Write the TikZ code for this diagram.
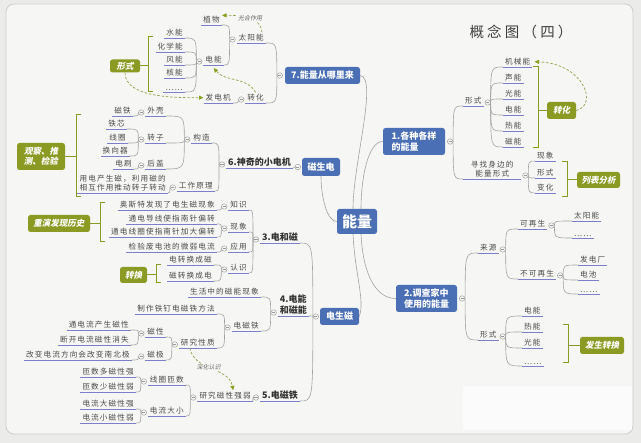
\documentclass[tikz,border=0pt]{standalone}
\usepackage{fontspec}
\usetikzlibrary{arrows.meta,calc}
\newfontfamily\cjk{Noto Sans CJK SC}[LetterSpace=15]
\newfontfamily\cjkt{Noto Sans CJK SC}[LetterSpace=22]
\newfontfamily\cjkn{Noto Sans CJK SC}
\newfontfamily\cjks{Noto Sans CJK SC}[FakeSlant=0.2]
\definecolor{paper}{HTML}{F6F6F4}
\definecolor{outer}{HTML}{EBEBE9}
\definecolor{frame}{HTML}{CDCDCB}
\definecolor{bblue}{HTML}{4A6FB5}
\definecolor{olive}{HTML}{8A9A22}
\definecolor{ulc}{HTML}{7C80C8}
\definecolor{cgray}{HTML}{A3A3A3}
\definecolor{txt}{HTML}{4A4A4A}
\definecolor{dcol}{HTML}{93A04A}
\definecolor{acol}{HTML}{8AA020}
\newcommand{\omL}[2]{\node[om, anchor=east] (#1) at ([xshift=-1pt,yshift=3.5pt]#2.south west) {};}
\newcommand{\omR}[2]{\node[om, anchor=west] (#1) at ([xshift=1pt,yshift=3.5pt]#2.south east) {};}
\newcommand{\cL}[2]{\draw[conn] (#1.west) .. controls (#1.west |- #2.south east) .. (#2.south east);}
\newcommand{\cR}[2]{\draw[conn] (#1.east) .. controls (#1.east |- #2.south west) .. (#2.south west);}
\tikzset{
 ulline/.style={draw=ulc, line width=0.9pt},
 lab/.style={font=\cjk\fontsize{7.6}{9.5}\selectfont, text=txt, inner xsep=2pt, inner ysep=1.6pt,
   append after command={(\tikzlastnode.south west) edge[ulline] (\tikzlastnode.south east)}},
 labl/.style={lab, anchor=south east},
 labr/.style={lab, anchor=south west},
 mainl/.style={lab, anchor=south east, font=\cjkn\bfseries\fontsize{9}{10.5}\selectfont, text=black!80},
 conn/.style={draw=cgray, line width=0.6pt},
 om/.style={circle, draw=gray!80, fill=paper, line width=0.45pt, minimum size=5.5pt, inner sep=0pt,
   path picture={\draw[gray!80, line width=0.45pt] ([xshift=-1.6pt]path picture bounding box.center) -- ([xshift=1.6pt]path picture bounding box.center);}},
 bbox/.style={fill=bblue, text=white, rounded corners=2.5pt, font=\cjkn\bfseries\fontsize{9}{11}\selectfont, inner sep=0pt, align=left},
 gbox/.style={fill=olive, text=white, rounded corners=2.5pt, font=\cjks\bfseries\fontsize{8.5}{10}\selectfont, inner sep=0pt, align=center},
 brk/.style={draw=olive, line width=1pt},
 darr/.style={draw=dcol, dash pattern=on 2.5pt off 1.8pt, line width=0.7pt, -{Triangle[length=4.5pt,width=4pt,fill=acol,color=acol]}},
 dlab/.style={font=\cjks\fontsize{6}{7}\selectfont, text=gray!80!black, inner sep=1pt, fill=paper},
}
\begin{document}
\begin{tikzpicture}[x=1pt,y=-1pt]
\useasboundingbox (0,0) rectangle (641,443);
\fill[outer] (0,0) rectangle (641,443);
\filldraw[fill=paper, draw=frame, line width=0.8pt, rounded corners=8pt] (6,4) rectangle (633,434);
\fill[white!60!paper] (463,386) rectangle (632,430);

\node[font=\cjkt\fontsize{14.5}{16}\selectfont, text=black!75] (title) at (521,32) {概念图（四）};

% ---------- center
\node[bbox, font=\cjkn\bfseries\fontsize{15}{17}\selectfont, minimum width=40pt, minimum height=25pt, align=center] (nl) at (357,221.5) {能量};

% ---------- 7
\node[bbox, minimum width=75pt, minimum height=17pt] (b7) at (322.5,75.5) {7.能量从哪里来};
\node[om, anchor=east] (o7) at ([xshift=-2pt]b7.west) {};
\node[labl] (sun) at (266,43) {太阳能};
\node[labl] (tr) at (266,103) {转化};
\cL{o7}{sun} \cL{o7}{tr}
\omL{osun}{sun}
\node[labl] (plant) at (222,25) {植物};
\node[labl] (elec) at (224,65) {电能};
\cL{osun}{plant} \cL{osun}{elec}
\omL{oelec}{elec}
\node[labl] (e1) at (185,38) {水能};
\node[labl] (e2) at (185,52) {化学能};
\node[labl] (e3) at (185,65) {风能};
\node[labl] (e4) at (185,78) {核能};
\node[labl] (e5) at (185,92) {……};
\foreach \k in {1,...,5} {\cL{oelec}{e\k}}
\omL{otr}{tr}
\node[labl] (gen) at (233,103) {发电机};
\cL{otr}{gen}
\draw[darr] ([xshift=-4pt]sun.north east) to[out=95,in=0] node[pos=0.45, dlab] (gh) {光合作用} ([yshift=-1pt]plant.north east);
\node[gbox, minimum width=30pt, minimum height=13pt] (xsL) at (125,66) {形式};
\draw[brk] (153,37) -- (148,37) -- (148,92) -- (153,92);
\draw[brk] (xsL.east) -- ++(8,0);
\draw[darr] (xsL.south) to[out=-90,in=180, looseness=0.8] (gen.west);
\draw[darr] (tr.north) to[out=120,in=-50] ([yshift=-3pt]elec.south);

% ---------- 6
\node[bbox, minimum width=38pt, minimum height=18pt, align=center] (msd) at (321,167) {磁生电};
\node[om, anchor=east] (omsd) at ([xshift=-1pt]msd.west) {};
\node[mainl] (b6) at (293,168) {6.神奇的小电机};
\draw[conn] (omsd.west) -- (b6.south east);
\omL{ob6}{b6}
\node[labl] (gz) at (212,143) {构造};
\node[labl] (gy) at (215,191) {工作原理};
\cL{ob6}{gz} \cL{ob6}{gy}
\omL{ogz}{gz}
\node[labl] (wk) at (166,116) {外壳};
\node[labl] (zz) at (166,143) {转子};
\node[labl] (hg) at (166,169) {后盖};
\cL{ogz}{wk} \cL{ogz}{zz} \cL{ogz}{hg}
\omL{owk}{wk}
\node[labl] (ct) at (133,116) {磁铁};
\cL{owk}{ct}
\omL{ozz}{zz}
\node[labl] (tx) at (127,129) {铁芯};
\node[labl] (xq) at (128,143) {线圈};
\node[labl] (hx) at (130,156) {换向器};
\cL{ozz}{tx} \cL{ozz}{xq} \cL{ozz}{hx}
\omL{ohg}{hg}
\node[labl] (ds) at (134,169) {电刷};
\cL{ohg}{ds}
\omL{ogy}{gy}
\node[labl, align=left] (yl) at (168,193) {用电产生磁，利用磁的\\相互作用推动转子转动};
\cL{ogy}{yl}
\node[gbox, minimum width=48pt, minimum height=27pt] (gc) at (41,156.5) {观察、推\\测、检验};
\draw[brk] (81,115) -- (76,115) -- (76,197) -- (81,197);
\draw[brk] (gc.east) -- ++(11,0);

% ---------- 3 4 5
\node[bbox, minimum width=39pt, minimum height=17pt, align=center] (dsc) at (339.5,316.5) {电生磁};
\node[om, anchor=east] (odsc) at ([xshift=-1pt]dsc.west) {};
\node[mainl] (b3) at (300,243) {3.电和磁};
\node[mainl, align=center] (b4) at (309,316) {4.电能\\和磁能};
\node[mainl] (b5) at (300,401) {5.电磁铁};
\cL{odsc}{b3} \cL{odsc}{b4} \cL{odsc}{b5}
\omL{ob3}{b3}
\node[labl] (zs) at (249,210) {知识};
\node[labl] (xx) at (249,232) {现象};
\node[labl] (yy) at (249,252) {应用};
\node[labl] (rs) at (249,273) {认识};
\cL{ob3}{zs} \cL{ob3}{xx} \cL{ob3}{yy} \cL{ob3}{rs}
\omL{ozs}{zs}
\node[labl] (zs1) at (217,210) {奥斯特发现了电生磁现象};
\cL{ozs}{zs1}
\omL{oxx}{xx}
\node[labl] (xx1) at (217,224) {通电导线使指南针偏转};
\node[labl] (xx2) at (217,237) {通电线圈使指南针加大偏转};
\cL{oxx}{xx1} \cL{oxx}{xx2}
\omL{oyy}{yy}
\node[labl] (yy1) at (217,252) {检验废电池的微弱电流};
\cL{oyy}{yy1}
\omL{ors}{rs}
\node[labl] (rs1) at (214,265) {电转换成磁};
\node[labl] (rs2) at (214,281) {磁转换成电};
\cL{ors}{rs1} \cL{ors}{rs2}
\node[gbox, minimum width=62pt, minimum height=17pt] (cy) at (59,223.5) {重演发现历史};
\draw[brk] (105,203) -- (100,203) -- (100,242) -- (105,242);
\draw[brk] (cy.east) -- ++(10,0);
\node[gbox, minimum width=27pt, minimum height=16pt] (zh) at (133.5,275) {转换};
\draw[brk] (161,265) -- (156,265) -- (156,283) -- (161,283);
\draw[brk] (zh.east) -- ++(9,0);

\omL{ob4}{b4}
\node[labl] (sh) at (261,297) {生活中的磁能现象};
\node[labl] (dct) at (261,331) {电磁铁};
\cL{ob4}{sh} \cL{ob4}{dct}
\omL{odct}{dct}
\node[labl] (zz1) at (217,314) {制作铁钉电磁铁方法};
\node[labl] (yjxz) at (217,348) {研究性质};
\cL{odct}{zz1} \cL{odct}{yjxz}
\omL{oyj}{yjxz}
\node[labl] (cx) at (166,337) {磁性};
\node[labl] (cj) at (166,360) {磁极};
\cL{oyj}{cx} \cL{oyj}{cj}
\omL{ocx}{cx}
\node[labl] (cx1) at (131,330) {通电流产生磁性};
\node[labl] (cx2) at (131,345) {断开电流磁性消失};
\cL{ocx}{cx1} \cL{ocx}{cx2}
\omL{ocj}{cj}
\node[labl] (cj1) at (132,360) {改变电流方向会改变南北极};
\cL{ocj}{cj1}

\omL{ob5}{b5}
\node[labl] (yq) at (253,401) {研究磁性强弱};
\cL{ob5}{yq}
\omL{oyq}{yq}
\node[labl] (xqzs) at (186,385) {线圈匝数};
\node[labl] (dldx) at (186,416) {电流大小};
\cL{oyq}{xqzs} \cL{oyq}{dldx}
\omL{oxq}{xqzs}
\node[labl] (z1) at (136,377) {匝数多磁性强};
\node[labl] (z2) at (136,392) {匝数少磁性弱};
\cL{oxq}{z1} \cL{oxq}{z2}
\omL{odl}{dldx}
\node[labl] (z3) at (136,409) {电流大磁性强};
\node[labl] (z4) at (136,423) {电流小磁性弱};
\cL{odl}{z3} \cL{odl}{z4}
\draw[darr] ([xshift=-8pt]yjxz.south) to[out=-80,in=100] node[dlab, pos=0.45] (shrs) {深化认识} ([xshift=8pt]yq.north);

% ---------- 1
\node[bbox, minimum width=62pt, minimum height=27pt] (b1) at (414,141.5) {1.各种各样\\的能量};
\node[om, anchor=west] (ob1) at ([xshift=2pt]b1.east) {};
\node[labr] (xs1) at (463,106) {形式};
\node[labr, align=center, minimum width=58pt] (xz) at (463,179) {寻找身边的\\能量形式};
\cR{ob1}{xs1} \cR{ob1}{xz}
\omR{oxs1}{xs1}
\node[labr] (f1) at (503,67) {机械能};
\node[labr] (f2) at (503,83) {声能};
\node[labr] (f3) at (503,99) {光能};
\node[labr] (f4) at (503,115) {电能};
\node[labr] (f5) at (503,131) {热能};
\node[labr] (f6) at (503,147) {磁能};
\foreach \k in {1,...,6} {\cR{oxs1}{f\k}}
\node[gbox, minimum width=29pt, minimum height=17pt] (zh2) at (561.5,110.5) {转化};
\draw[brk] (533,67) -- (538,67) -- (538,148) -- (533,148);
\draw[brk] (zh2.west) -- ++(-9,0);
\draw[darr] (zh2.east) .. controls +(22,-5) and +(50,2) .. ([xshift=2pt]f1.east);
\omR{oxz}{xz}
\node[labr] (x1) at (535,161) {现象};
\node[labr] (x2) at (535,178) {形式};
\node[labr] (x3) at (535,193) {变化};
\cR{oxz}{x1} \cR{oxz}{x2} \cR{oxz}{x3}
\node[gbox, minimum width=43pt, minimum height=16pt] (lb) at (598.5,180) {列表分析};
\draw[brk] (562,162) -- (567,162) -- (567,197) -- (562,197);
\draw[brk] (lb.west) -- ++(-10,0);

% ---------- 2
\node[bbox, minimum width=61pt, minimum height=27pt] (b2) at (426.5,298.5) {2.调查家中\\使用的能量};
\node[om, anchor=west] (ob2) at ([xshift=2pt]b2.east) {};
\node[labr] (ly) at (478,253) {来源};
\node[labr] (xs2) at (478,340) {形式};
\cR{ob2}{ly} \cR{ob2}{xs2}
\omR{oly}{ly}
\node[labr] (kzs) at (518,229) {可再生};
\node[labr] (bkzs) at (518,279) {不可再生};
\cR{oly}{kzs} \cR{oly}{bkzs}
\omR{okzs}{kzs}
\node[labr] (k1) at (572,221) {太阳能};
\node[labr] (k2) at (572,238) {……};
\cR{okzs}{k1} \cR{okzs}{k2}
\omR{obk}{bkzs}
\node[labr] (bk1) at (578,265) {发电厂};
\node[labr] (bk2) at (578,280) {电池};
\node[labr] (bk3) at (578,294) {……};
\cR{obk}{bk1} \cR{obk}{bk2} \cR{obk}{bk3}
\omR{oxs2}{xs2}
\node[labr] (s1) at (522,316) {电能};
\node[labr] (s2) at (522,332) {热能};
\node[labr] (s3) at (522,348) {光能};
\node[labr] (s4) at (522,366) {……};
\foreach \k in {1,...,4} {\cR{oxs2}{s\k}}
\node[gbox, minimum width=44pt, minimum height=17pt] (fs) at (602,345.5) {发生转换};
\draw[brk] (563,325) -- (568,325) -- (568,363) -- (563,363);
\draw[brk] (fs.west) -- ++(-12,0);

% ---------- center links
\draw[conn] (b7.east) .. controls +(18,3) and +(0,-45) .. ([xshift=-4pt]nl.north);
\draw[conn] (b1.west) .. controls +(-15,0) and +(0,-30) .. ([xshift=4pt]nl.north);
\draw[conn] (msd.south) .. controls +(0,20) and +(-10,0) .. (nl.west);
\draw[conn] ([xshift=-4pt]nl.south) .. controls +(2,40) and +(6,-15) .. (dsc.east);
\draw[conn] ([xshift=4pt]nl.south) .. controls +(2,40) and +(-20,0) .. (b2.west);
\end{tikzpicture}
\end{document}
